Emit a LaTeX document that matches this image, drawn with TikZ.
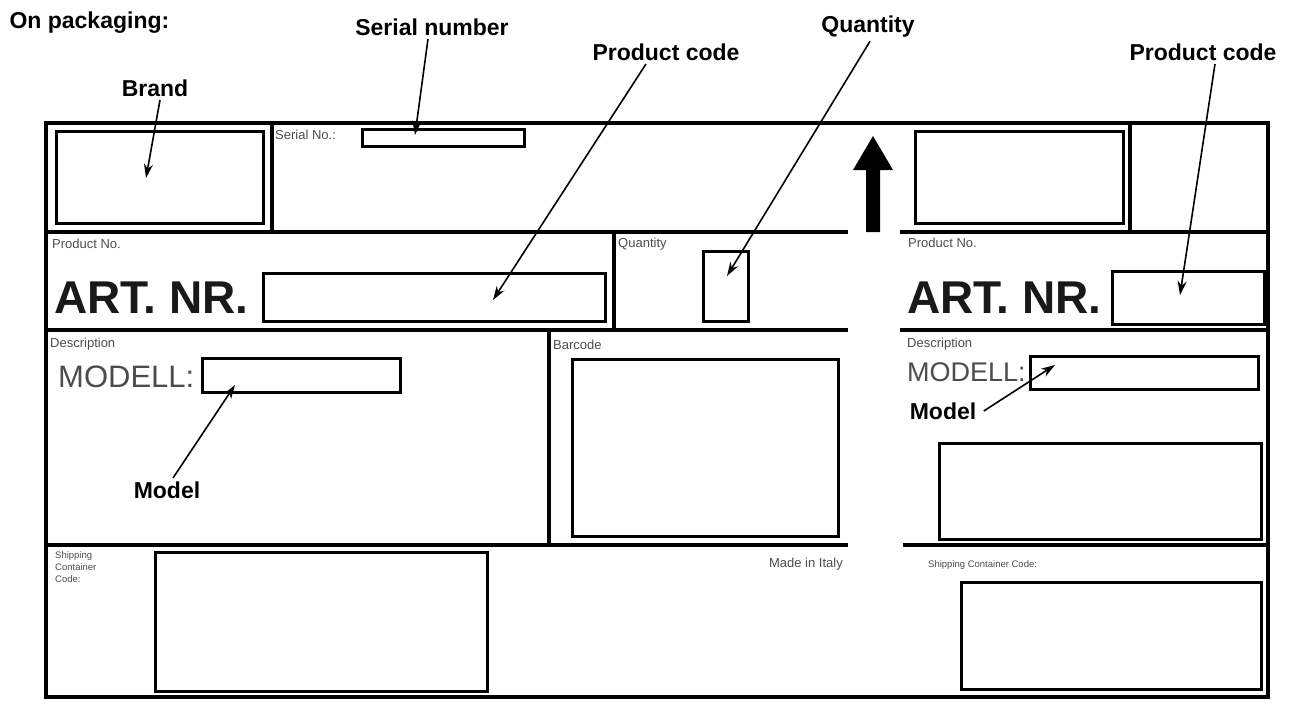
\documentclass[tikz,border=0pt]{standalone}
\usepackage{fontspec}
\setmainfont{Liberation Sans}
\usetikzlibrary{arrows.meta}
\begin{document}
\begin{tikzpicture}[x=1pt,y=-1pt,
  box/.style={draw,line width=3pt,inner sep=0pt,anchor=north west},
  rule/.style={line width=3.4pt},
  ann/.style={font=\fontsize{23}{26}\selectfont\bfseries},
  small/.style={font=\fontsize{13}{15}\selectfont,text=black!70,inner sep=0pt,anchor=north west},
  tiny/.style={font=\fontsize{9.5}{12}\selectfont,text=black!70,inner sep=0pt,anchor=north west,align=left},
  artnr/.style={font=\fontsize{46}{48}\selectfont\bfseries,inner sep=0pt,anchor=base west,text=black!90},
  modell/.style={font=\fontsize{31}{32}\selectfont,inner sep=0pt,anchor=base west,text=black!70},
  pointer/.style={-{Stealth[length=14pt,width=9pt]},line width=1.6pt}]
\useasboundingbox (0,0) rectangle (1306,704);
% frame
\draw[rule] (46,123) rectangle (1268,697);
\draw[rule] (272,123) -- (272,232);
\draw[rule] (1130,123) -- (1130,232);
\draw[rule] (46,232) -- (848,232) (900,232) -- (1268,232);
\draw[rule] (614,232) -- (614,330);
\draw[rule] (46,330) -- (848,330) (900,330) -- (1268,330);
\draw[rule] (549,330) -- (549,545);
\draw[rule] (46,545) -- (848,545) (903,545) -- (1268,545);
% up arrow
\fill (866,232) -- (866,170) -- (853,170) -- (873,136) -- (893,170) -- (880,170) -- (880,232) -- cycle;
% boxes
\node[box,minimum width=207,minimum height=92] (brandbox) at (55,130) {};
\node[box,minimum width=162,minimum height=17] (serialbox) at (361,128) {};
\node[box,minimum width=208,minimum height=92] (topright) at (914,130) {};
\node[box,minimum width=342,minimum height=48] (codebox) at (262,272) {};
\node[box,minimum width=45,minimum height=70] (qtybox) at (702,250) {};
\node[box,minimum width=152,minimum height=53] (codebox2) at (1111,270) {};
\node[box,minimum width=198,minimum height=34] (modelbox) at (201,357) {};
\node[box,minimum width=266,minimum height=177] (barbox) at (571,358) {};
\node[box,minimum width=228,minimum height=33] (modelbox2) at (1029,355) {};
\node[box,minimum width=322,minimum height=96] (descbox2) at (938,442) {};
\node[box,minimum width=332,minimum height=139] (shipbox) at (154,551) {};
\node[box,minimum width=300,minimum height=107] (shipbox2) at (960,581) {};
% small labels
\node[small] (sn) at (275,130) {Serial No.:};
\node[small] (pn) at (52,239) {Product No.};
\node[small] (qt) at (618,238) {Quantity};
\node[small] (pn2) at (908,238) {Product No.};
\node[small] (ds) at (50,338) {Description};
\node[small] (bc) at (553,340) {Barcode};
\node[small] (ds2) at (907,338) {Description};
\node[tiny] (sc) at (55,551) {Shipping\\Container\\Code:};
\node[tiny] (sc2) at (928,560) {Shipping Container Code:};
\node[small,anchor=north east] (mi) at (843,558) {Made in Italy};
\node[artnr] (art) at (54,313) {ART. NR.};
\node[artnr] (art2) at (907,313) {ART. NR.};
\node[modell] (mod) at (58,387) {MODELL:};
\node[modell,font=\fontsize{27}{28}\selectfont] (mod2) at (907,381) {MODELL:};
% annotations
\node[ann,anchor=west] (onp) at (6,23) {On packaging:};
\node[ann] (sernum) at (432,27) {Serial number};
\node[ann] (brand) at (155,88) {Brand};
\node[ann] (pc) at (666,52) {Product code};
\node[ann] (qty) at (868,27) {Quantity};
\node[ann] (pc2) at (1203,52) {Product code};
\node[ann] (model) at (167,490) {Model};
\node[ann] (model2) at (943,411) {Model};
\coordinate (tSer) at (415,135);
\coordinate (tBrand) at (146,178);
\coordinate (tPc) at (493,300);
\coordinate (tQty) at (727,276);
\coordinate (tPc2) at (1180,295);
\coordinate (tMod) at (235,385);
\coordinate (tMod2) at (1055,365);
\draw[pointer] (sernum.south) ++(-4,0) -- (tSer);
\draw[pointer] (brand.south) ++(5,0) -- (tBrand);
\draw[pointer] (pc.south) ++(-20,0) -- (tPc);
\draw[pointer] (qty.south) ++(2,0) -- (tQty);
\draw[pointer] (pc2.south) ++(12,0) -- (tPc2);
\draw[pointer] (model.north) ++(6,0) -- (tMod);
\draw[pointer] (model2.east) ++(4,0) -- (tMod2);
\end{tikzpicture}
\end{document}
